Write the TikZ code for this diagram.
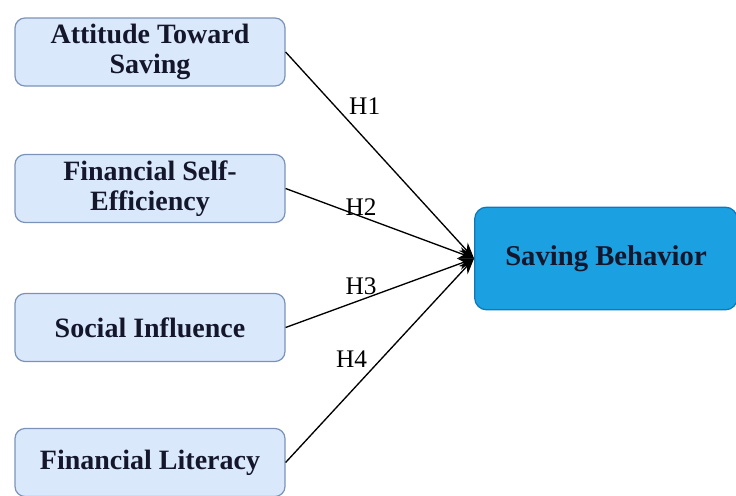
\documentclass[tikz,border=0pt]{standalone}
\usepackage{fontspec}
\setmainfont{Liberation Serif}
\usepackage{xcolor}
\usetikzlibrary{arrows.meta}

\definecolor{factorfill}{HTML}{DAE8FC}
\definecolor{factorline}{HTML}{7C93B8}
\definecolor{outcomefill}{HTML}{1BA1E2}
\definecolor{outcomeline}{HTML}{0E78B8}
\definecolor{darktext}{HTML}{14172B}

\begin{document}
\begin{tikzpicture}[
	x=0.75pt, y=-0.75pt,
	factor/.style = {shape=rectangle, rounded corners=7.5pt,
		draw=factorline, fill=factorfill, line width=0.9pt,
		minimum width=202.5pt, minimum height=51pt, inner sep=0pt,
		align=center, text=darktext,
		font=\bfseries\fontsize{21}{22.5}\selectfont},
	outcome/.style = {shape=rectangle, rounded corners=9pt,
		draw=outcomeline, fill=outcomefill, line width=0.9pt,
		minimum width=197pt, minimum height=77pt, inner sep=0pt,
		text=darktext, font=\bfseries\fontsize{21.5}{23}\selectfont},
	hypline/.style = {draw, line width=1pt, black,
		-{Stealth[length=12pt, width=9pt]}},
	hyp/.style = {font=\fontsize{19}{20}\selectfont, inner sep=2pt}]
	\useasboundingbox (0,0) rectangle (736,496);

	% the four predictors on the left
	\node[factor] (ats) at (150,52)    {Attitude Toward\\Saving};
	\node[factor] (fse) at (150,188.5) {Financial Self-\\Efficiency};
	\node[factor] (soc) at (150,327.5) {Social Influence};
	\node[factor] (lit) at (150,462.5) {Financial Literacy};

	% the outcome
	\node[outcome] (sb) at (606,258.5) {Saving Behavior};

	% hypotheses
	\draw[hypline] (ats.east) -- node[hyp, pos=0.32, above right] (h1) {H1} (sb.west);
	\draw[hypline] (fse.east) -- node[hyp, pos=0.40, above, inner sep=0pt] (h2) {H2} (sb.west);
	\draw[hypline] (soc.east) -- node[hyp, pos=0.40, above, inner sep=3pt] (h3) {H3} (sb.west);
	\draw[hypline] (lit.east) -- node[hyp, pos=0.45, above left] (h4) {H4} (sb.west);
\end{tikzpicture}
\end{document}
